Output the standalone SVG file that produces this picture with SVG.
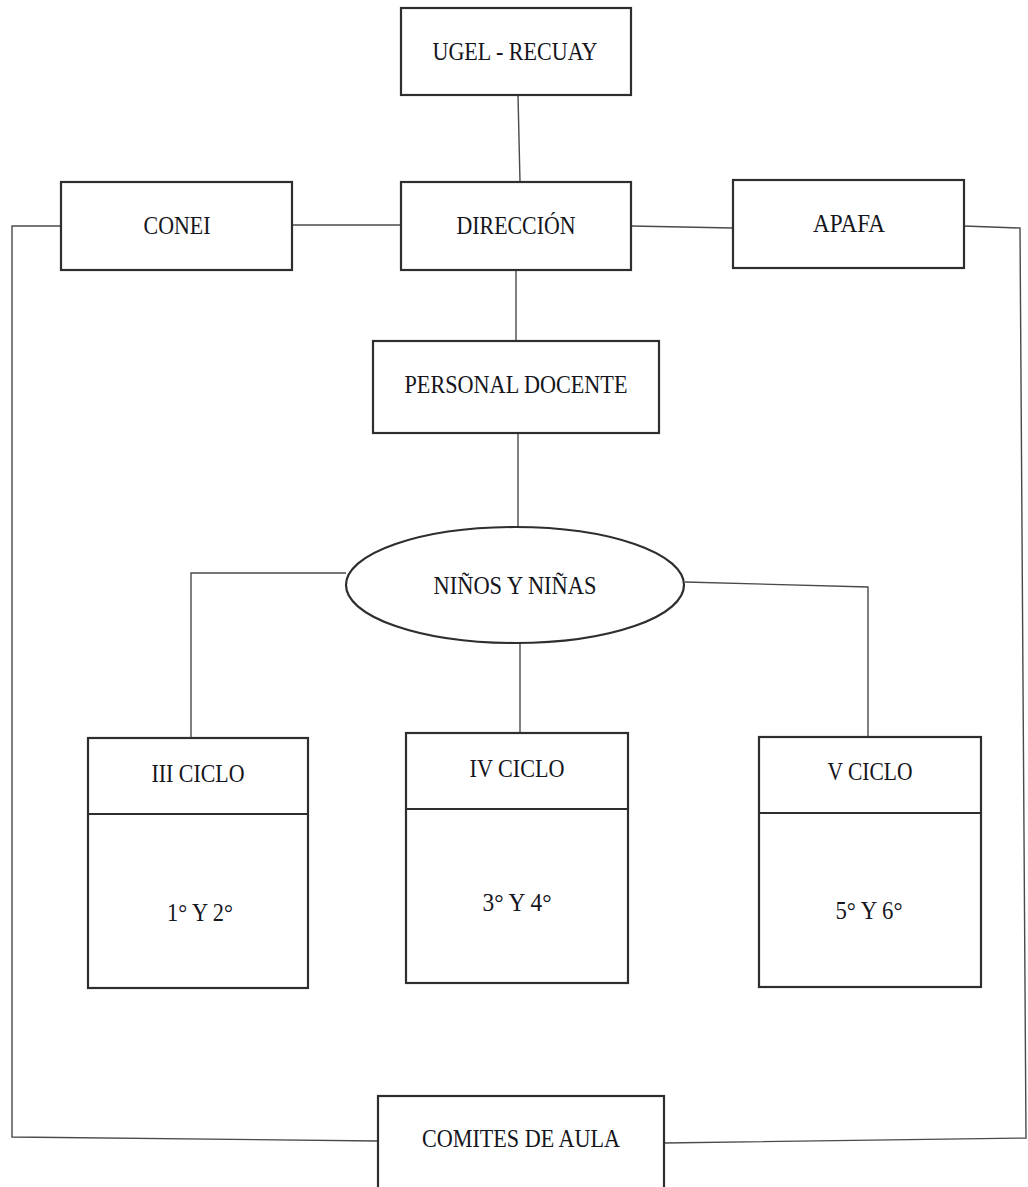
<svg xmlns="http://www.w3.org/2000/svg" width="1028" height="1187" viewBox="0 0 1028 1187">
  <style>
    .box { fill: #ffffff; stroke: #2e2e2e; stroke-width: 2.2; }
    .div { stroke: #2e2e2e; stroke-width: 2; fill: none; }
    .lbl { font-family: "Liberation Serif", "Times New Roman", serif; font-size: 26px; fill: #15151c; text-anchor: middle; }
    .link { fill: none; stroke: #4a4a4a; stroke-width: 1.4; stroke-linejoin: miter; }
  </style>
  <rect width="1028" height="1187" fill="#ffffff"/>

  <!-- connectors -->
  <g id="connectors">
    <path class="link" d="M518,95 L520,182"/>
    <path class="link" d="M292,225 L401,225"/>
    <path class="link" d="M631,226 L733,228"/>
    <path class="link" d="M516,270 L516,341"/>
    <path class="link" d="M518,433 L518,527"/>
    <path class="link" d="M346,573 L191,573 L191,738"/>
    <path class="link" d="M685,582 L868,587 L868,737"/>
    <path class="link" d="M520,643 L520,733"/>
    <path class="link" d="M61,226 L12,226 L12,1137 L378,1141"/>
    <path class="link" d="M964,226 L1020,228 L1026,1138 L664,1143"/>
  </g>

  <g id="ugel">
    <rect class="box" x="401" y="8" width="230" height="87"/>
    <text class="lbl" x="515" y="60" textLength="165" lengthAdjust="spacingAndGlyphs">UGEL - RECUAY</text>
  </g>

  <g id="conei">
    <rect class="box" x="61" y="182" width="231" height="88"/>
    <text class="lbl" x="177" y="234" textLength="67" lengthAdjust="spacingAndGlyphs">CONEI</text>
  </g>

  <g id="direccion">
    <rect class="box" x="401" y="182" width="230" height="88"/>
    <text class="lbl" x="516" y="234" textLength="119" lengthAdjust="spacingAndGlyphs">DIRECCIÓN</text>
  </g>

  <g id="apafa">
    <rect class="box" x="733" y="180" width="231" height="88"/>
    <text class="lbl" x="849" y="232" textLength="72" lengthAdjust="spacingAndGlyphs">APAFA</text>
  </g>

  <g id="personal-docente">
    <rect class="box" x="373" y="341" width="286" height="92"/>
    <text class="lbl" x="516" y="393" textLength="223" lengthAdjust="spacingAndGlyphs">PERSONAL DOCENTE</text>
  </g>

  <g id="ninos-ninas">
    <ellipse class="box" cx="515" cy="585" rx="169" ry="58"/>
    <text class="lbl" x="515" y="594" textLength="163" lengthAdjust="spacingAndGlyphs">NIÑOS Y NIÑAS</text>
  </g>

  <g id="ciclo-iii">
    <rect class="box" x="88" y="738" width="220" height="250"/>
    <line class="div" x1="88" y1="814" x2="308" y2="814"/>
    <text class="lbl" x="198" y="782" textLength="93" lengthAdjust="spacingAndGlyphs">III CICLO</text>
    <text class="lbl" x="200" y="921" textLength="66" lengthAdjust="spacingAndGlyphs">1° Y 2°</text>
  </g>

  <g id="ciclo-iv">
    <rect class="box" x="406" y="733" width="222" height="250"/>
    <line class="div" x1="406" y1="809" x2="628" y2="809"/>
    <text class="lbl" x="517" y="777" textLength="95" lengthAdjust="spacingAndGlyphs">IV CICLO</text>
    <text class="lbl" x="517" y="911" textLength="69" lengthAdjust="spacingAndGlyphs">3° Y 4°</text>
  </g>

  <g id="ciclo-v">
    <rect class="box" x="759" y="737" width="222" height="250"/>
    <line class="div" x1="759" y1="813" x2="981" y2="813"/>
    <text class="lbl" x="870" y="780" textLength="85" lengthAdjust="spacingAndGlyphs">V CICLO</text>
    <text class="lbl" x="869" y="919" textLength="67" lengthAdjust="spacingAndGlyphs">5° Y 6°</text>
  </g>

  <g id="comites-de-aula">
    <rect class="box" x="378" y="1096" width="286" height="100"/>
    <text class="lbl" x="521" y="1147" textLength="198" lengthAdjust="spacingAndGlyphs">COMITES DE AULA</text>
  </g>
</svg>
